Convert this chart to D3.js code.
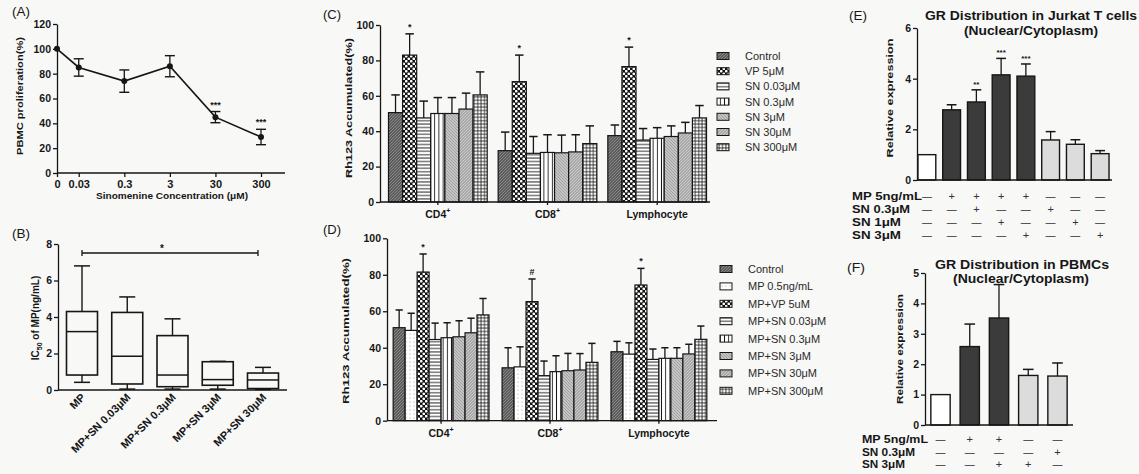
<!DOCTYPE html>
<html>
<head>
<meta charset="utf-8">
<script src="https://cdn.jsdelivr.net/npm/d3@7"></script>
<style>
body { margin: 0; background: #f8f8f7; }
svg { display: block; font-family: "Liberation Sans", Arial, sans-serif; }
.axis path, .axis line { stroke: #161616; stroke-width: 1.3px; }
.axis text { font-size: 10.5px; font-weight: bold; fill: #161616; font-family: "Liberation Sans", Arial, sans-serif; }
</style>
</head>
<body>
<svg id="fig" width="1139" height="474"></svg>
<script>
// ---- data ----
// (A) PBMC proliferation vs sinomenine
var aConc = [0, 0.03, 0.3, 3, 30, 300];
var aLabels = ["0", "0.03", "0.3", "3", "30", "300"];
var aMean = [100, 85, 74, 86, 45, 29];
var aErr = [0, 7, 9, 8.5, 4.5, 6.2];
var aSig = ["", "", "", "", "***", "***"];

// (B) IC50 box plot
var bGroups = ["MP", "MP+SN 0.03\u03bcM", "MP+SN 0.3\u03bcM", "MP+SN 3\u03bcM", "MP+SN 30\u03bcM"];
var bMin = [0.42, 0.05, 0.05, 0.05, 0.03];
var bQ1 = [0.82, 0.33, 0.18, 0.26, 0.08];
var bMed = [3.2, 1.85, 0.82, 0.57, 0.55];
var bQ3 = [4.3, 4.25, 2.98, 1.55, 0.93];
var bMax = [6.8, 5.1, 3.9, 1.57, 1.24];

// (C) Rh123, sinomenine alone
var cGroups = ["CD4", "CD8", "Lymphocyte"];
var cSeries = ["Control", "VP 5\u03bcM", "SN 0.03\u03bcM", "SN 0.3\u03bcM", "SN 3\u03bcM", "SN 30\u03bcM", "SN 300\u03bcM"];
var cMean = [
  [50.5, 29, 37.5], [83, 68, 76.5], [47.5, 27.5, 35], [50, 28, 36],
  [50, 27.8, 37], [52.5, 28.3, 39], [60.5, 33, 47.5]
];
var cErr = [
  [10, 10.5, 6], [12, 15, 11], [9.5, 9.5, 6.5], [9, 10, 6],
  [9, 10, 6], [9, 9.7, 6], [13, 10, 7]
];
var cSig = ["*", "*", "*"];

// (D) Rh123, with MP
var dSeries = ["Control", "MP 0.5ng/mL", "MP+VP 5uM", "MP+SN 0.03\u03bcM", "MP+SN 0.3\u03bcM", "MP+SN 3\u03bcM", "MP+SN 30\u03bcM", "MP+SN 300\u03bcM"];
var dMean = [
  [51, 29, 37.8], [49.5, 29.5, 36.5], [81.5, 65.3, 74.4], [44.5, 24.7, 33.6],
  [45.5, 26.9, 34.2], [46, 27.4, 34.2], [48.2, 27.8, 36.6], [58, 32, 44.6]
];
var dErr = [
  [9.7, 11, 5.7], [9.4, 11, 6.2], [9.9, 12.4, 9.1], [9, 8, 5.7],
  [8.2, 8.7, 5.8], [8.8, 9.5, 5.8], [8, 9, 5.3], [9, 10.4, 7.3]
];
var dSig = ["*", "#", "*"];

// (E) GR distribution, Jurkat
var eMean = [1.0, 2.77, 3.08, 4.15, 4.1, 1.58, 1.41, 1.04];
var eErr = [0, 0.2, 0.48, 0.65, 0.48, 0.33, 0.18, 0.12];
var eSig = ["", "", "**", "***", "***", "", "", ""];
var eTone = ["w", "d", "d", "d", "d", "l", "l", "l"];
var eRowNames = ["MP 5ng/mL", "SN 0.3\u03bcM", "SN 1\u03bcM", "SN 3\u03bcM"];
var eRows = [
  [0, 1, 1, 1, 1, 0, 0, 0],
  [0, 0, 1, 0, 0, 1, 0, 0],
  [0, 0, 0, 1, 0, 0, 1, 0],
  [0, 0, 0, 0, 1, 0, 0, 1]
];

// (F) GR distribution, PBMC
var fMean = [1.0, 2.58, 3.52, 1.63, 1.61];
var fErr = [0, 0.74, 1.1, 0.2, 0.43];
var fTone = ["w", "d", "d", "l", "l"];
var fRowNames = ["MP 5ng/mL", "SN 0.3\u03bcM", "SN 3\u03bcM"];
var fRows = [
  [0, 1, 1, 0, 0],
  [0, 0, 0, 0, 1],
  [0, 0, 1, 1, 0]
];

var ink = "#161616";
var toneFill = { w: "#ffffff", d: "#3b3b3b", l: "#dcdcdc" };

var svg = d3.select("#fig");
var defs = svg.append("defs");

// fill patterns like the prism ones
function pat(id, w, h, bg) {
  var p = defs.append("pattern").attr("id", id)
    .attr("patternUnits", "userSpaceOnUse").attr("width", w).attr("height", h);
  p.append("rect").attr("width", w).attr("height", h).attr("fill", bg);
  return p;
}
pat("pCtrl", 3, 3, "#5c5c5c").append("path")
  .attr("d", "M-1,1L1,-1M0,3L3,0M2,4L4,2").attr("stroke", "#9c9c9c").attr("stroke-width", 0.7);
var pv = pat("pVP", 5, 5, "#111");
pv.append("circle").attr("cx", 1.25).attr("cy", 1.25).attr("r", 1.35).attr("fill", "#fff");
pv.append("circle").attr("cx", 3.75).attr("cy", 3.75).attr("r", 1.35).attr("fill", "#fff");
pat("pHz", 4, 3.4, "#fff").append("line")
  .attr("x1", 0).attr("x2", 4).attr("y1", 1.7).attr("y2", 1.7).attr("stroke", ink).attr("stroke-width", 0.9);
pat("pVt", 4.2, 4, "#fff").append("line")
  .attr("x1", 2.1).attr("x2", 2.1).attr("y1", 0).attr("y2", 4).attr("stroke", ink).attr("stroke-width", 0.9);
pat("pLg", 3, 3, "#c4c4c4").append("path")
  .attr("d", "M-1,2L1,4M0,0L3,3M2,-1L4,1").attr("stroke", "#8a8a8a").attr("stroke-width", 0.6);
pat("pMg", 3, 3, "#a9a9a9").append("path")
  .attr("d", "M-1,1L1,-1M0,3L3,0M2,4L4,2").attr("stroke", "#e0e0e0").attr("stroke-width", 0.6);
var pg = pat("pGrid", 3.4, 3.4, "#fff");
pg.append("path").attr("d", "M0,1.7H3.4M1.7,0V3.4").attr("stroke", ink).attr("stroke-width", 0.8);
pat("pDot", 4, 4, "#fff").append("circle")
  .attr("cx", 2).attr("cy", 2).attr("r", 0.55).attr("fill", "#999");

var cFills = ["pCtrl", "pVP", "pHz", "pVt", "pLg", "pMg", "pGrid"];
var dFills = ["pCtrl", "pDot", "pVP", "pHz", "pVt", "pLg", "pMg", "pGrid"];

function label(x, y, s, opt) {
  opt = opt || {};
  var t = svg.append("text").attr("x", x).attr("y", y).text(s)
    .attr("font-size", opt.size || 10.5).attr("font-weight", opt.bold === false ? "normal" : "bold")
    .attr("fill", opt.fill || ink).attr("text-anchor", opt.anchor || "middle");
  if (opt.len) t.attr("textLength", opt.len).attr("lengthAdjust", "spacingAndGlyphs");
  if (opt.rot) t.attr("transform", "rotate(" + opt.rot + "," + x + "," + y + ")");
  return t;
}
function hline(x1, x2, y, w) {
  svg.append("line").attr("x1", x1).attr("x2", x2).attr("y1", y).attr("y2", y)
    .attr("stroke", ink).attr("stroke-width", w || 1.3);
}
function vline(x, y1, y2, w) {
  svg.append("line").attr("x1", x).attr("x2", x).attr("y1", y1).attr("y2", y2)
    .attr("stroke", ink).attr("stroke-width", w || 1.3);
}
function yAxis(scale, x, ticks) {
  svg.append("g").attr("class", "axis").attr("transform", "translate(" + x + ",0)")
    .call(d3.axisLeft(scale).tickValues(ticks).tickFormat(d3.format("d"))
      .tickSize(4).tickSizeOuter(0).tickPadding(2));
}
// upward error bar with cap (prism style)
function errUp(x, yTop, yBar, cap) {
  vline(x, yBar, yTop, 1.3);
  hline(x - cap / 2, x + cap / 2, yTop, 1.5);
}

// panel letters
label(12, 16, "(A)", { size: 12, bold: false, anchor: "start", len: 18 });
label(12, 238, "(B)", { size: 12, bold: false, anchor: "start", len: 18 });
label(323, 19, "(C)", { size: 12, bold: false, anchor: "start", len: 18 });
label(323, 234, "(D)", { size: 12, bold: false, anchor: "start", len: 18 });
label(849, 20, "(E)", { size: 12, bold: false, anchor: "start", len: 18 });
label(847, 272, "(F)", { size: 12, bold: false, anchor: "start", len: 18 });

// ===== (A) =====
var xA = d3.scaleLog().domain([0.01, 300]).range([57, 261]);
var yA = d3.scaleLinear().domain([0, 120]).range([173, 24]);
var ax = function (c) { return xA(c === 0 ? 0.01 : c); };
yAxis(yA, 57, d3.range(0, 121, 20));
var gxa = svg.append("g").attr("class", "axis").attr("transform", "translate(0,173)")
  .call(d3.axisBottom(xA).tickValues(aConc.map(function (c) { return c === 0 ? 0.01 : c; }))
    .tickFormat(function (d, i) { return aLabels[i]; }).tickSize(4).tickPadding(3));
gxa.select(".domain").remove();
gxa.selectAll("text").style("font-size", "11px");
hline(57, 285, 173);
aConc.forEach(function (c, i) {
  if (aErr[i] > 0) {
    vline(ax(c), yA(aMean[i] - aErr[i]), yA(aMean[i] + aErr[i]), 1.3);
    hline(ax(c) - 5, ax(c) + 5, yA(aMean[i] + aErr[i]), 1.4);
    hline(ax(c) - 5, ax(c) + 5, yA(aMean[i] - aErr[i]), 1.4);
  }
  if (aSig[i]) label(ax(c), yA(aMean[i] + aErr[i]) - 4, aSig[i], { size: 9 });
});
svg.append("path")
  .datum(aConc.map(function (c, i) { return [ax(c), yA(aMean[i])]; }))
  .attr("d", d3.line()).attr("fill", "none").attr("stroke", ink).attr("stroke-width", 1.6);
svg.selectAll("circle.pa").data(aConc).join("circle").attr("class", "pa")
  .attr("cx", function (c) { return ax(c); }).attr("cy", function (c, i) { return yA(aMean[i]); })
  .attr("r", 3).attr("fill", ink);
label(23, 96, "PBMC proliferation(%)", { size: 9.5, rot: -90, len: 118 });
label(172, 199, "Sinomenine Concentration (\u03bcM)", { size: 9.5, len: 152 });

// ===== (B) =====
var xB = d3.scalePoint().domain(bGroups).range([82, 263]);
var yB = d3.scaleLinear().domain([0, 8]).range([390, 244]);
yAxis(yB, 58, [0, 2, 4, 6, 8]);
hline(58, 287, 390);
bGroups.forEach(function (g, i) {
  var cx = xB(g), w = 31;
  vline(cx, yB(bQ3[i]), yB(bMax[i]), 1.4);
  hline(cx - 8, cx + 8, yB(bMax[i]), 1.5);
  vline(cx, yB(bQ1[i]), yB(bMin[i]), 1.4);
  hline(cx - 8, cx + 8, yB(bMin[i]), 1.5);
  svg.append("rect").attr("x", cx - w / 2).attr("y", yB(bQ3[i]))
    .attr("width", w).attr("height", yB(bQ1[i]) - yB(bQ3[i]))
    .attr("fill", "none").attr("stroke", ink).attr("stroke-width", 1.6);
  hline(cx - w / 2, cx + w / 2, yB(bMed[i]), 1.5);
  label(cx + 4, 398, g, { size: 11, anchor: "end", rot: -45 });
});
hline(xB(bGroups[0]), xB(bGroups[4]) - 5, 253, 1.3);
vline(xB(bGroups[0]), 250, 256, 1.3);
vline(xB(bGroups[4]) - 5, 250, 256, 1.3);
label(162, 252, "*", { size: 10 });
var bt = svg.append("text").attr("transform", "translate(39,318) rotate(-90)")
  .attr("text-anchor", "middle").attr("font-size", 10).attr("font-weight", "bold").attr("fill", ink);
bt.append("tspan").text("IC");
bt.append("tspan").text("50").attr("font-size", 7).attr("dy", 3);
bt.append("tspan").text(" of MP(ng/mL)").attr("dy", -3);

// ===== grouped pattern bars (C, D) =====
function groupedBars(series, means, errs, fills, sig, x0, yS, yZero) {
  var x1 = d3.scaleBand().domain(series).range([0, x0.bandwidth()]);
  series.forEach(function (s, si) {
    cGroups.forEach(function (g, gi) {
      var x = x0(g) + x1(s), bw = x1.bandwidth(), v = means[si][gi];
      errUp(x + bw / 2, yS(v + errs[si][gi]), yS(v), bw * 0.6);
      svg.append("rect").attr("x", x).attr("y", yS(v)).attr("width", bw)
        .attr("height", yZero - yS(v)).attr("fill", "url(#" + fills[si] + ")")
        .attr("stroke", ink).attr("stroke-width", 1.2);
      if (fills[si] === "pVP" && sig[gi])
        label(x + bw / 2, yS(v + errs[si][gi]) - 4, sig[gi], { size: 9 });
    });
  });
}
function groupLabels(x0, y) {
  cGroups.forEach(function (g) {
    var t = label(x0(g) + x0.bandwidth() / 2, y, g, { size: 10.5 });
    if (g !== "Lymphocyte") t.append("tspan").text("+").attr("font-size", 7).attr("dy", -5);
  });
}

// (C)
var x0C = d3.scaleBand().domain(cGroups).range([383, 712]).paddingInner(0.1).paddingOuter(0.05);
var yC = d3.scaleLinear().domain([0, 100]).range([202, 25]);
yAxis(yC, 380, d3.range(0, 101, 20));
groupedBars(cSeries, cMean, cErr, cFills, cSig, x0C, yC, 202);
hline(380, 710, 202);
cGroups.forEach(function (g) { vline(x0C(g) + x0C.bandwidth() / 2, 202, 205); });
groupLabels(x0C, 218);
label(352, 108, "Rh123 Accumulated(%)", { size: 9.5, rot: -90, len: 140 });
cSeries.forEach(function (s, i) {
  var cy = 56 + 15.2 * i;
  svg.append("rect").attr("x", 717).attr("y", cy - 3.5).attr("width", 12).attr("height", 7)
    .attr("fill", "url(#" + cFills[i] + ")").attr("stroke", ink).attr("stroke-width", 1);
  label(745, cy + 4, s, { size: 11, bold: false, anchor: "start", fill: "#2a2a2a" });
});

// (D)
var x0D = d3.scaleBand().domain(cGroups).range([385, 715]).paddingInner(0.12).paddingOuter(0.075);
var yD = d3.scaleLinear().domain([0, 100]).range([420.7, 238.3]);
yAxis(yD, 387, d3.range(0, 101, 20));
groupedBars(dSeries, dMean, dErr, dFills, dSig, x0D, yD, 420.7);
hline(387, 717, 420.7);
cGroups.forEach(function (g) { vline(x0D(g) + x0D.bandwidth() / 2, 420.7, 423.7); });
groupLabels(x0D, 437);
label(349, 331, "Rh123 Accumulated(%)", { size: 9.5, rot: -90, len: 146 });
dSeries.forEach(function (s, i) {
  var cy = 269 + 17.4 * i;
  svg.append("rect").attr("x", 720).attr("y", cy - 3.5).attr("width", 12).attr("height", 7)
    .attr("fill", "url(#" + dFills[i] + ")").attr("stroke", ink).attr("stroke-width", 1);
  label(748, cy + 4, s, { size: 11, bold: false, anchor: "start", fill: "#2a2a2a" });
});

// ===== simple bars with +/- table (E, F) =====
function gridBars(means, errs, tones, sig, xS, yS, yZero) {
  means.forEach(function (v, i) {
    var x = xS(i), bw = xS.bandwidth();
    if (errs[i] > 0) errUp(x + bw / 2, yS(v + errs[i]), yS(v), bw * 0.55);
    svg.append("rect").attr("x", x).attr("y", yS(v)).attr("width", bw).attr("height", yZero - yS(v))
      .attr("fill", toneFill[tones[i]]).attr("stroke", ink).attr("stroke-width", 1.4);
    if (sig && sig[i]) label(x + bw / 2, yS(v + errs[i]) - 3, sig[i], { size: 8 });
  });
}
function signTable(names, rows, xS, xLab, y0, dy, lens) {
  names.forEach(function (n, r) {
    label(xLab, y0 + dy * r, n, { size: 10, anchor: "start", len: lens[r] });
    rows[r].forEach(function (on, i) {
      label(xS(i) + xS.bandwidth() / 2, y0 + dy * r, on ? "+" : "\u2014",
        { size: on ? 11 : 10, bold: false, fill: "#333" });
    });
  });
}

// (E)
var xE = d3.scaleBand().domain(d3.range(eMean.length)).range([915, 1112]).paddingInner(0.28).paddingOuter(0.12);
var yE = d3.scaleLinear().domain([0, 6]).range([180, 28]);
yAxis(yE, 917, [0, 2, 4, 6]);
gridBars(eMean, eErr, eTone, eSig, xE, yE, 180);
hline(917, 1112, 180);
label(893, 98, "Relative expression", { size: 9.5, rot: -90, len: 119 });
label(1031, 20, "GR Distribution in Jurkat T cells", { size: 12, len: 212 });
label(1031, 35, "(Nuclear/Cytoplasm)", { size: 12, len: 134 });
signTable(eRowNames, eRows, xE, 852, 200, 13, [70, 58, 49, 49]);

// (F)
var xF = d3.scaleBand().domain(d3.range(fMean.length)).range([925, 1073]).paddingInner(0.34).paddingOuter(0.2);
var yF = d3.scaleLinear().domain([0, 5]).range([425, 273]);
yAxis(yF, 925, [0, 1, 2, 3, 4, 5]);
gridBars(fMean, fErr, fTone, null, xF, yF, 425);
hline(925, 1073, 425);
label(903, 349, "Relative expression", { size: 9.5, rot: -90, len: 110 });
label(1022, 269, "GR Distribution in PBMCs", { size: 12, len: 174 });
label(1021, 283, "(Nuclear/Cytoplasm)", { size: 12, len: 136 });
signTable(fRowNames, fRows, xF, 862, 443, 12.5, [66, 53, 43]);
</script>
</body>
</html>
